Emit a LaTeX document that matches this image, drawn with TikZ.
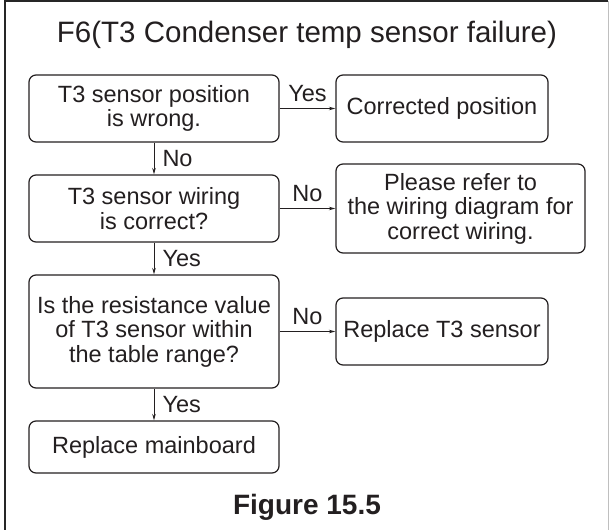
\documentclass[tikz,border=0pt]{standalone}
\usepackage{fontspec}
\setmainfont{Liberation Sans}
\usetikzlibrary{arrows.meta}
\definecolor{ink}{HTML}{231F20}
\begin{document}
\begin{tikzpicture}[x=1pt,y=-1pt,
  box/.style={draw=ink,line width=1.2pt,rounded corners=7pt,inner sep=0pt,align=center,
    text=ink,font=\fontsize{23.5}{24.5}\selectfont},
  conn/.style={draw=ink,line width=1pt,-{Stealth[length=6.5pt,width=3.5pt]}},
  lbl/.style={text=ink,font=\fontsize{23.5}{24.5}\selectfont,inner sep=0pt},
  hlbl/.style={lbl,anchor=base,yshift=7pt},
  vlbl/.style={lbl,anchor=west,xshift=8pt}]
\useasboundingbox (0,0) rectangle (609,529);
% frame
\draw[black!85,line width=2pt] (5,530) -- (5,1) -- (608,1);
\draw[black!25,line width=0.8pt] (608,1) -- (608,530);
% title
\node[text=ink,font=\fontsize{29.5}{31}\selectfont,anchor=base] (title) at (307,43) {F6(T3 Condenser temp sensor failure)};
% boxes
\node[box,minimum width=250pt,minimum height=67pt] (b1) at (154,108.5) {T3 sensor position\\is wrong.};
\node[box,minimum width=212pt,minimum height=67pt] (b2) at (442,108.5) {Corrected position};
\node[box,minimum width=250pt,minimum height=67pt] (b3) at (154,208.5) {T3 sensor wiring\\is correct?};
\node[box,minimum width=249pt,minimum height=89pt] (b4) at (460.5,208.5) {Please refer to\\the wiring diagram for\\correct wiring.};
\node[box,minimum width=250pt,minimum height=113pt] (b5) at (154,331.5) {Is the resistance value\\of T3 sensor within\\the table range?};
\node[box,minimum width=212pt,minimum height=67pt] (b6) at (442,331.5) {Replace T3 sensor};
\node[box,minimum width=250pt,minimum height=52pt] (b7) at (154,447) {Replace mainboard};
% connectors
\draw[conn] (b1) -- node[hlbl] {Yes} (b2);
\draw[conn] (b1) -- node[vlbl] {No} (b3);
\draw[conn] (b3) -- node[hlbl] {No} (b4);
\draw[conn] (b3) -- node[vlbl] {Yes} (b5);
\draw[conn] (b5) -- node[hlbl] {No} (b6);
\draw[conn] (b5) -- node[vlbl] {Yes} (b7);
% caption
\node[text=ink,font=\bfseries\fontsize{28}{30}\selectfont,anchor=base] (fig) at (307,514) {Figure 15.5};
\end{tikzpicture}
\end{document}
